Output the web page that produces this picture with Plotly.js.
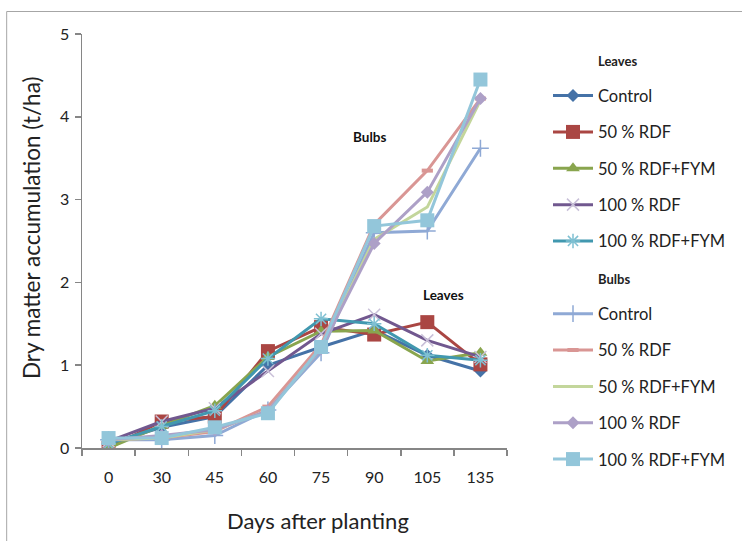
<!DOCTYPE html>
<html>
<head>
<meta charset="utf-8">
<script src="https://cdn.plot.ly/plotly-3.0.1.min.js"></script>
<style>html,body{margin:0;padding:0;background:#fff;}#chart{width:742px;height:541px;}</style>
</head>
<body>
<div id="chart"></div>
<script>
// Days after planting (category labels)
var days = ['0', '30', '45', '60', '75', '90', '105', '135'];
var treatments = ['Control', '50 % RDF', '50 % RDF+FYM', '100 % RDF', '100 % RDF+FYM'];

// Leaves dry matter (t/ha)
var leavesControl  = [0.05, 0.25, 0.38, 1.00, 1.22, 1.42, 1.12, 0.93];
var leaves50RDF    = [0.00, 0.32, 0.38, 1.17, 1.46, 1.37, 1.52, 1.01];
var leaves50FYM    = [0.00, 0.27, 0.51, 1.10, 1.41, 1.42, 1.05, 1.15];
var leaves100RDF   = [0.08, 0.32, 0.48, 0.93, 1.38, 1.61, 1.30, 1.10];
var leaves100FYM   = [0.05, 0.26, 0.45, 1.08, 1.56, 1.50, 1.12, 1.06];

// Bulbs dry matter (t/ha)
var bulbsControl   = [0.10, 0.10, 0.15, 0.46, 1.15, 2.60, 2.62, 3.62];
var bulbs50RDF     = [0.10, 0.12, 0.20, 0.50, 1.25, 2.70, 3.35, 4.22];
var bulbs50FYM     = [0.10, 0.12, 0.22, 0.45, 1.20, 2.52, 2.91, 4.20];
var bulbs100RDF    = [0.10, 0.15, 0.22, 0.45, 1.20, 2.47, 3.09, 4.22];
var bulbs100FYM    = [0.12, 0.12, 0.25, 0.42, 1.22, 2.68, 2.75, 4.45];

var leavesSeries = [leavesControl, leaves50RDF, leaves50FYM, leaves100RDF, leaves100FYM];
var bulbsSeries  = [bulbsControl, bulbs50RDF, bulbs50FYM, bulbs100RDF, bulbs100FYM];

var leavesColors = ['#4572A7', '#AA4643', '#89A54E', '#71588F', '#4198AF'];
var bulbsColors  = ['#8FA9D5', '#D99694', '#C3D69B', '#ADA0C7', '#93C6DA'];

var leavesMarkers = [
  {symbol: 'diamond', size: 10},
  {symbol: 'square', size: 14},
  {symbol: 'triangle-up', size: 12},
  {symbol: 'x-thin-open', size: 12, color: '#C9C0D8'},
  {symbol: 'asterisk-open', size: 12, color: '#7FC0D2'}
];
var bulbsMarkers = [
  {symbol: 'cross-thin-open', size: 12},
  {symbol: 'line-ew-open', size: 8},
  null,
  {symbol: 'diamond', size: 10},
  {symbol: 'square', size: 14}
];

var traces = [];
function header(txt, grp) {
  return {x: [null], y: [null], type: 'scatter', mode: 'lines',
    line: {width: 0, color: 'rgba(0,0,0,0)'}, hoverinfo: 'skip',
    name: '<b><span style="font-size:13px">' + txt + '</span></b>', legendgroup: grp, showlegend: true};
}
function addSeries(data, colors, markers, prefix) {
  for (var i = 0; i < data.length; i++) {
    var m = markers[i];
    var t = {x: days, y: data[i], type: 'scatter', name: treatments[i],
      legendgroup: prefix + i, line: {color: colors[i], width: 3}, hoverinfo: 'y'};
    if (m) {
      t.mode = 'lines+markers';
      var isOpen = m.symbol.indexOf('open') >= 0;
      var mc = m.color || colors[i];
      t.marker = {symbol: m.symbol, size: m.size, color: mc,
        line: {color: mc, width: isOpen ? (m.symbol === 'line-ew-open' ? 4 : 1.5) : 0}};
    } else {
      t.mode = 'lines';
    }
    traces.push(t);
  }
}
traces.push(header('Leaves', 'hL'));
addSeries(leavesSeries, leavesColors, leavesMarkers, 'L');
traces.push(header('Bulbs', 'hB'));
addSeries(bulbsSeries, bulbsColors, bulbsMarkers, 'B');

var L = 82, R = 508, T = 34, B = 448, W = 742, H = 541;
function px(x) { return (x - L) / (R - L); }
function py(y) { return (B - y) / (B - T); }

var layout = {
  width: W, height: H,
  margin: {l: L, r: W - R, t: T, b: H - B, pad: 0},
  paper_bgcolor: '#fff', plot_bgcolor: '#fff',
  font: {family: 'Lato, "Liberation Sans", sans-serif', color: '#222', size: 15},
  showlegend: true,
  legend: {x: px(548), xanchor: 'left', y: py(42), yanchor: 'top',
    font: {size: 16.5, color: '#222'}, itemwidth: 40, tracegroupgap: 11.9,
    traceorder: 'grouped', bgcolor: 'rgba(0,0,0,0)', itemclick: false, maxheight: 530},
  xaxis: {type: 'category', showgrid: false, zeroline: false,
    showline: true, linecolor: '#868686', linewidth: 1.5,
    ticks: 'outside', ticklen: 6, tickcolor: '#868686', tickwidth: 1.5,
    tickson: 'boundaries', ticklabelstandoff: 14,
    tickfont: {size: 16, color: '#222'}, range: [-0.5, 7.5], fixedrange: true},
  yaxis: {range: [0, 5], dtick: 1, showgrid: false, zeroline: false,
    showline: true, linecolor: '#868686', linewidth: 1.5,
    ticks: 'outside', ticklen: 6, tickcolor: '#868686', tickwidth: 1.5,
    ticklabelstandoff: 2,
    tickfont: {size: 16, color: '#222'}, fixedrange: true},
  annotations: [
    {text: 'Dry matter accumulation (t/ha)', textangle: -90, showarrow: false,
      xref: 'paper', yref: 'paper', x: px(31), y: py(228), xanchor: 'center', yanchor: 'middle',
      font: {size: 22.5, color: '#222'}},
    {text: 'Days after planting', showarrow: false,
      xref: 'paper', yref: 'paper', x: px(319), y: py(520), xanchor: 'center', yanchor: 'middle',
      font: {size: 22, color: '#222'}},
    {text: '<b>Bulbs</b>', showarrow: false, xref: 'paper', yref: 'paper',
      x: px(370), y: py(137), xanchor: 'center', yanchor: 'middle', font: {size: 13.5, color: '#111'}},
    {text: '<b>Leaves</b>', showarrow: false, xref: 'paper', yref: 'paper',
      x: px(444), y: py(295), xanchor: 'center', yanchor: 'middle', font: {size: 13.5, color: '#111'}}
  ],
  shapes: [
    {type: 'rect', xref: 'paper', yref: 'paper', x0: px(6.5), x1: px(760), y0: py(560), y1: py(11.5),
      line: {color: '#a6a6a6', width: 1}, fillcolor: 'rgba(0,0,0,0)', layer: 'below'}
  ]
};

Plotly.newPlot('chart', traces, layout, {displayModeBar: false, staticPlot: true});
</script>
</body>
</html>
